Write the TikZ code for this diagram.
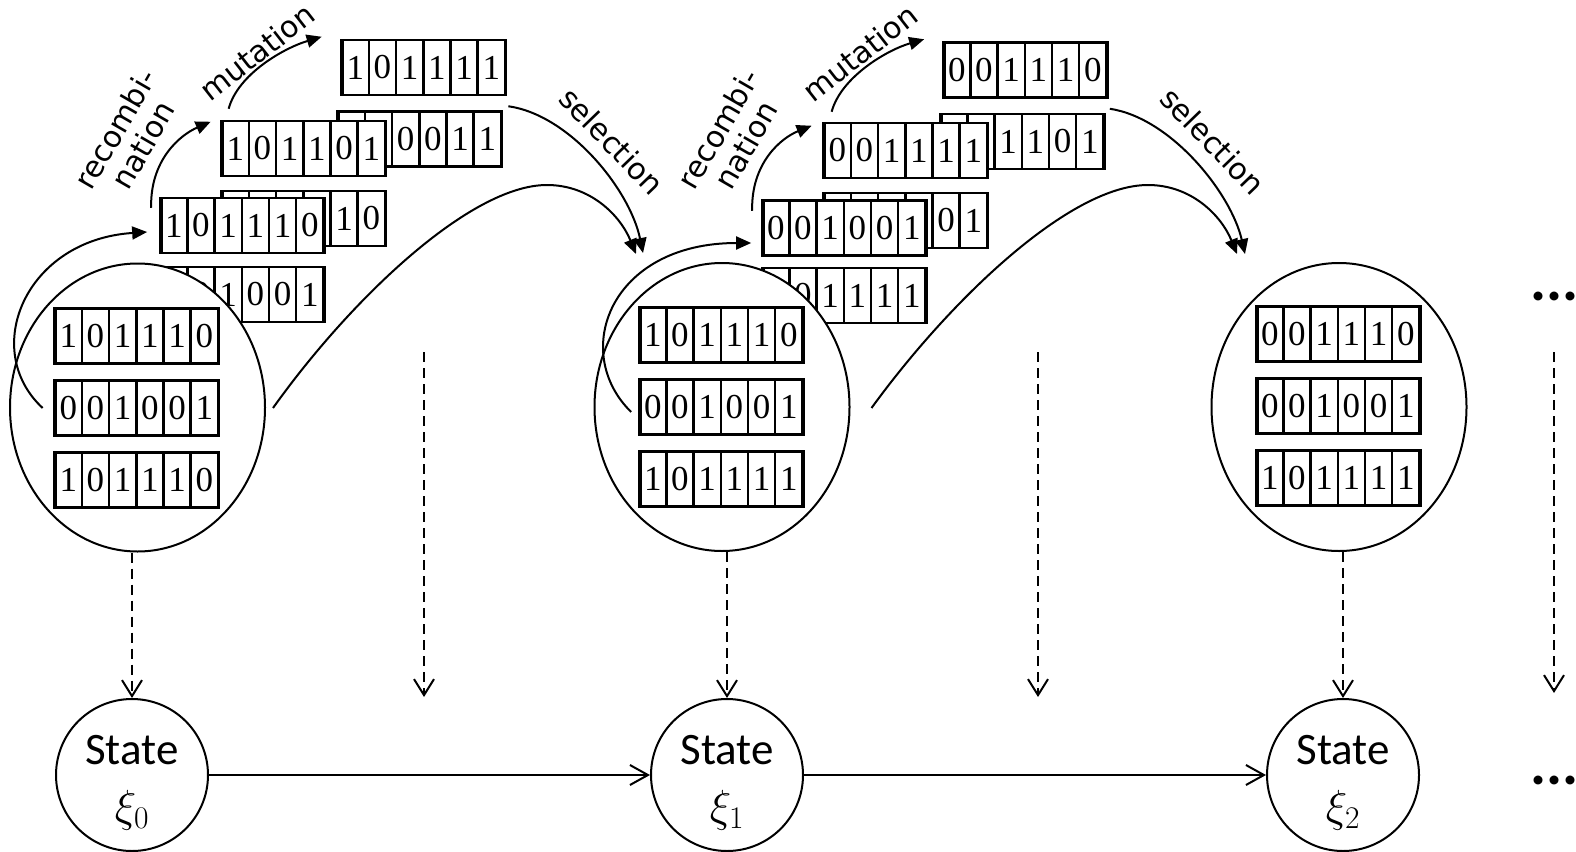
\RequirePackage{fix-cm}
\documentclass[tikz,border=0pt]{standalone}
\usepackage{fontspec}
\usepackage{amsmath}
\usetikzlibrary{arrows.meta, positioning, calc, shapes.geometric}
\newfontfamily\bitfont{Liberation Serif}
\newfontfamily\labelfont{DejaVu Sans}
\newfontfamily\statefont{Carlito}

% one bit string: name, centre, bits
\newcommand{\chrom}[3]{%
  \node[chrom] (#1) at (#2) {};
  \foreach \bitval [count=\cellno] in {#3}
    \node[bit] at ($(#1.west)+(\cellno*27.2-13.6,0)$) {\bitval};
}

\begin{document}
\begin{tikzpicture}[x=1pt, y=-1pt,
    chrom/.style={draw, fill=white, line width=2.5pt, minimum width=163.2pt, minimum height=55pt, inner sep=0pt},
    bit/.style={draw, line width=2.5pt, minimum width=27.2pt, minimum height=55pt, inner sep=0pt, font=\bitfont\fontsize{35}{35}\selectfont},
    pop/.style={ellipse, draw, fill=white, line width=2pt, minimum width=255pt, minimum height=288pt, inner sep=0pt},
    state/.style={circle, draw, line width=2pt, minimum size=152pt, inner sep=0pt, align=center, font=\statefont\fontsize{45}{57}\selectfont},
    evo/.style={line width=2pt, -{Triangle[length=15pt, width=13pt]}},
    oplabel/.style={font=\labelfont\fontsize{30}{32}\selectfont, align=center, inner sep=0pt},
    trans/.style={line width=2pt, -{Straight Barb[length=18pt, width=20pt]}},
    proj/.style={line width=2pt, dash pattern=on 10pt off 6pt, -{Straight Barb[length=16pt, width=20pt]}},
    dots/.style={font=\statefont\bfseries\fontsize{60}{60}\selectfont, inner sep=0pt, anchor=base west},
]
    \useasboundingbox (0,0) rectangle (1576,851);

    % generation 1: parents, offspring, mutants
    \chrom{m1a}{424.5,67.5}{1,0,1,1,1,1}
    \chrom{m1b}{420.5,139}{0,0,0,0,1,1}
    \chrom{r1a}{304.5,148.5}{1,0,1,1,0,1}
    \chrom{r1b}{304.5,218.5}{0,0,1,0,1,0}
    \chrom{s1a}{243,225.5}{1,0,1,1,1,0}
    \chrom{s1b}{243,294.5}{0,0,1,0,0,1}

    \node[pop] (pop0) at (137.5,407.5) {};
    \chrom{p0a}{$(pop0)+(0,-71.5)$}{1,0,1,1,1,0}
    \chrom{p0b}{$(pop0)+(0,0.5)$}{0,0,1,0,0,1}
    \chrom{p0c}{$(pop0)+(0,72.5)$}{1,0,1,1,1,0}

    % generation 2
    \chrom{m2a}{1026,70}{0,0,1,1,1,0}
    \chrom{m2b}{1023,141.5}{1,0,1,1,0,1}
    \chrom{r2a}{906.5,150.5}{0,0,1,1,1,1}
    \chrom{r2b}{906.5,220.5}{1,0,1,0,0,1}
    \chrom{s2a}{845,228}{0,0,1,0,0,1}
    \chrom{s2b}{845,295.5}{1,0,1,1,1,1}

    \node[pop] (pop1) at (722,407) {};
    \chrom{p1a}{$(pop1)+(0,-72)$}{1,0,1,1,1,0}
    \chrom{p1b}{$(pop1)+(0,0)$}{0,0,1,0,0,1}
    \chrom{p1c}{$(pop1)+(0,72)$}{1,0,1,1,1,1}

    \node[pop] (pop2) at (1339,407) {};
    \chrom{p2a}{$(pop2)+(0,-73)$}{0,0,1,1,1,0}
    \chrom{p2b}{$(pop2)+(0,-1)$}{0,0,1,0,0,1}
    \chrom{p2c}{$(pop2)+(0,71)$}{1,0,1,1,1,1}

    % operators, generation 1
    \draw[evo] ($(p0b.west)+(-12,0)$) .. controls (-20,350) and (25,240) .. ($(s1a.west)+(-13,6.5)$);
    \draw[evo] ($(s1a.north west)+(-9,11)$) .. controls (150,160) and (180,135) .. ($(r1a.north west)+(-11,2)$);
    \draw[evo] ($(r1a.north west)+(7,-11)$) .. controls (238,74) and (284,48) .. ($(m1a.north west)+(-20,-2)$);
    \draw[evo] ($(m1b.north east)+(5,-4)$) .. controls (570,115) and (630,190) .. ($(pop1.north)+(-79,-9)$);
    \draw[evo] ($(pop0.east)+(7,0.5)$) .. controls (350,300) and (470,185) .. (547,185)
        .. controls (590,185) and (620,215) .. ($(pop1.north)+(-86,-8)$);
    \node[oplabel, rotate=60] (rec1) at (129,137) {recombi-\\nation};
    \node[oplabel, rotate=38] (mut1) at (257,52) {mutation};
    \node[oplabel, rotate=-46] (sel1) at (612,141) {selection};

    % operators, generation 2
    \draw[evo] ($(p1b.west)+(-8,5)$) .. controls (570,352) and (610,243) .. ($(s2a.west)+(-11,15)$);
    \draw[evo] ($(s2a.north west)+(-10,11.5)$) .. controls (751,163) and (781,138) .. ($(r2a.north west)+(-12,4)$);
    \draw[evo] ($(r2a.north west)+(8,-10)$) .. controls (841,77) and (887,50) .. ($(m2a.north west)+(-19,-2)$);
    \draw[evo] ($(m2b.north east)+(4,-4)$) .. controls (1171,118) and (1231,193) .. ($(pop2.north)+(-94,-8)$);
    \draw[evo] ($(pop1.east)+(21,1)$) .. controls (950,300) and (1070,185) .. (1148,185)
        .. controls (1191,185) and (1221,215) .. ($(pop2.north)+(-102,-8)$);
    \node[oplabel, rotate=60] (rec2) at (732,137) {recombi-\\nation};
    \node[oplabel, rotate=38] (mut2) at (860,53) {mutation};
    \node[oplabel, rotate=-46] (sel2) at (1213,141) {selection};

    % states
    \node[state] (st0) at (132,775) {\rule{0pt}{45pt}State\\$\xi_0$};
    \node[state] (st1) at (727,775) {\rule{0pt}{45pt}State\\$\xi_1$};
    \node[state] (st2) at (1343,775) {\rule{0pt}{45pt}State\\$\xi_2$};
    \draw[trans] (st0) -- (st1);
    \draw[trans] (st1) -- (st2);

    \draw[proj] (st0 |- pop0.south) -- (st0.north);
    \draw[proj] (st1 |- pop1.south) -- (st1.north);
    \draw[proj] (st2 |- pop2.south) -- (st2.north);
    \coordinate (g0top) at (424,352);
    \coordinate (g0bot) at (424,697);
    \coordinate (g1top) at (1038,352);
    \coordinate (g1bot) at (1038,697);
    \coordinate (g2top) at (1554,352);
    \coordinate (g2bot) at (1554,693);
    \draw[proj] (g0top) -- (g0bot);
    \draw[proj] (g1top) -- (g1bot);
    \draw[proj] (g2top) -- (g2bot);

    \node[dots] (moreup) at (1530,300) {...};
    \node[dots] (moredown) at (1530,784) {...};
\end{tikzpicture}
\end{document}
